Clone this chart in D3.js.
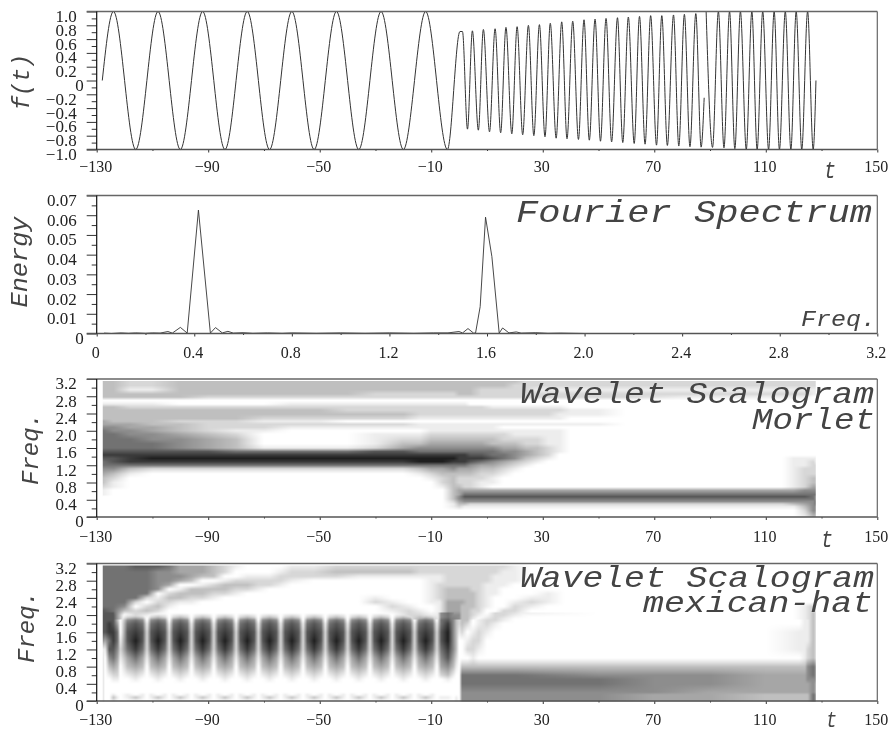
<!DOCTYPE html>
<html lang="en">

<head>
    <meta charset="UTF-8">
    <title>Fourier spectrum and wavelet scalograms</title>
    <style>
        body { margin: 0; background: #fff; }
        svg { display: block; filter: blur(0.45px); }
        .tick-label { font-family: "Liberation Serif", serif; fill: #222; }
        .big-label { font-family: "Liberation Mono", monospace; font-style: italic; fill: #444; }
    </style>
</head>

<body>
    <svg id="chart" width="889" height="733"></svg>

    <script src="https://d3js.org/d3.v7.min.js"></script>
    <script>

        // tick values
        var timeTicks = [-130, -90, -50, -10, 30, 70, 110, 150]
        var timeMinor = [-110, -70, -30, 10, 50, 90, 130]
        var signalTicks = [-1, -0.8, -0.6, -0.4, -0.2, 0, 0.2, 0.4, 0.6, 0.8, 1]
        var signalMinor = [-0.9, -0.7, -0.5, -0.3, -0.1, 0.1, 0.3, 0.5, 0.7, 0.9]
        var energyTicks = [0, 0.01, 0.02, 0.03, 0.04, 0.05, 0.06, 0.07]
        var energyMinor = [0.005, 0.015, 0.025, 0.035, 0.045, 0.055, 0.065]
        var freqTicks = [0, 0.4, 0.8, 1.2, 1.6, 2.0, 2.4, 2.8, 3.2]
        var freqMinor = [0.2, 0.6, 1.0, 1.4, 1.8, 2.2, 2.6, 3.0]

        var signalT = [-128, -124, -116, -108, -100, -92, -84, -76, -68, -60, -52, -44, -36, -28, -20, -12, -4.2,
            0.3, 1.2, 3, 4.76, 6.9, 8.7, 10.9, 12.9, 14.9, 16.8, 18.9, 20.8, 22.8, 24.85, 26.8, 28.8, 30.8, 32.7, 34.8,
            36.8, 38.7, 40.75, 42.8, 44.8, 46.7, 48.76, 50.7, 52.7, 54.7, 56.8, 58.7, 60.7, 62.8, 64.7, 66.7, 68.7, 70.8,
            72.7, 74.7, 76.9, 78.8, 80.8, 82.8, 84.9, 86.8, 87.9, null, 88.6, 90.9, 93, 95, 97, 98.9, 100.9, 103, 105,
            106.9, 108.9, 111, 113, 114.9, 117, 119, 120.9, 122.9, 125, 127, 128]
        var signalF = [0, 1, -1, 1, -1, 1, -1, 1, -1, 1, -1, 1, -1, 1, -1, 1, -1,
            0.71, 0.71, -0.705, 0.72, -0.72, 0.74, -0.744, 0.75, -0.758, 0.77, -0.773, 0.78, -0.787, 0.8, -0.8, 0.81, -0.816, 0.83, -0.836,
            0.85, -0.845, 0.86, -0.855, 0.88, -0.865, 0.89, -0.88, 0.9, -0.89, 0.91, -0.9, 0.92, -0.913, 0.93, -0.923, 0.94, -0.937,
            0.94, -0.942, 0.95, -0.95, 0.96, -0.96, 0.97, -0.966, -0.25, null, 1, -0.97, 1, -0.976, 1, -0.99, 1, -1, 1,
            -1, 1, -1, 1, -1, 1, -1, 1, -1, 1, -1, 0]

        // Fourier spectrum
        var spectrumF = [0.03, 0.06, 0.1, 0.13, 0.16, 0.2, 0.23, 0.26, 0.292, 0.31, 0.343, 0.371, 0.417, 0.466, 0.487, 0.515, 0.538, 0.56,
            0.6, 0.64, 0.7, 0.76, 0.8, 0.9, 1, 1.1, 1.2, 1.3, 1.38, 1.44, 1.485, 1.5, 1.522, 1.545, 1.553, 1.572, 1.594, 1.62, 1.65,
            1.664, 1.69, 1.72, 1.74, 1.8, 1.85, 1.9, 2, 2.4, 2.8, 3.14]
        var spectrumE = [0.0002, 0, 0.0003, 0.0001, 0.0003, 0.0001, 0.0003, 0.0002, 0.001, 0.0002, 0.0031, 0.0002, 0.0626, 0.0002, 0.003, 0.0003, 0.0011, 0.0002,
            0.0004, 0.0001, 0.0003, 0.0001, 0.0003, 0.0001, 0.0003, 0.0001, 0.0003, 0.0001, 0.0003, 0.0003, 0.001, 0.0003, 0.0025, 0.0002, 0.0002, 0.0136, 0.059, 0.039, 0.0002,
            0.0028, 0.0003, 0.0008, 0.0002, 0.0004, 0.0001, 0.0002, 0, 0, 0, 0]

        // Morlet scalogram, grey level 0-9, one string per frequency (top row first)
        var morletT = [-128, -124, -118, -110, -100, -90, -80, -70, -60, -50, -40, -30, -20, -14, -10, -6, -2, 0, 2, 4,
            8, 12, 16, 20, 24, 28, 32, 36, 40, 50, 60, 80, 100, 112, 116, 120, 124, 127, 128]
        var morletF = [3.15, 3.05, 2.95, 2.85, 2.78, 2.7, 2.62, 2.55, 2.48, 2.38, 2.28, 2.22, 2.15, 2.08, 2, 1.92, 1.8, 1.7, 1.6,
            1.52, 1.44, 1.36, 1.28, 1.2, 1.12, 1, 0.9, 0.8, 0.7, 0.62, 0.52, 0.47, 0.42, 0.36, 0.3, 0.24, 0.15, 0]
        var morletRows = [
            "3322 333333333 3333 333 333322222 2222 222222",
            "3322 333333333 3333 333 333222222 2222 222222",
            "3311 333333333 3333 333 222221111 1111 111111",
            "3333 333333322 2222 333 222222222 2222 222211",
            "3333 322222222 2222 222 222222222 2211 111100",
            "0000 000000000 0000 000 000000000 0000 000000",
            "1111 000011111 1111 110 000000000 0000 000000",
            "3322 222222222 2222 222 211111110 0000 000000",
            "3333 333333222 2222 222 222222221 1000 000000",
            "3333 333333333 2222 222 222222211 1000 000000",
            "3333 333222222 1111 111 111111110 0000 000000",
            "4333 222111000 0000 000 000000000 0000 000000",
            "4443 322222222 1111 111 111111111 1000 000000",
            "5544 322211111 1111 111 110000000 0000 000000",
            "6554 321100000 0111 111 111111110 0000 000000",
            "6655 432000011 1222 222 222111110 0000 000000",
            "6665 543000012 2333 333 332222110 0000 000000",
            "6666 543000013 3444 444 433322110 0000 000000",
            "6666 543111124 5555 555 554433210 0000 000000",
            "7777 776666677 6666 666 665543210 0000 000000",
            "8888 888888888 8888 887 766543200 0000 000000",
            "7789 999999999 9999 888 876532100 0000 001111",
            "6788 888888888 9998 887 654321000 0000 001121",
            "6666 666666666 6666 665 443210000 0000 001122",
            "5532 222222222 3445 444 332100000 0000 001222",
            "4310 000000000 1233 333 221000000 0000 001222",
            "3200 000000000 0123 222 210000000 0000 001233",
            "3100 000000000 0023 222 110000000 0000 001233",
            "2100 000000000 0013 322 100000000 0000 001244",
            "1000 000000000 0003 444 444444444 4444 444555",
            "1000 000000000 0003 466 666666666 6666 666666",
            "0000 000000000 0003 577 777777777 7777 777765",
            "0000 000000000 0003 566 666666666 6666 666665",
            "0000 000000000 0002 455 555555555 5555 555556",
            "0000 000000000 0001 332 222222222 2222 223456",
            "0000 000000000 0001 211 111111111 1111 111355",
            "0000 000000000 0000 000 000000000 0000 000255",
            "0000 000000000 0000 000 000000000 0000 000133"
        ]

        // mexican-hat scalogram, lower part (bars and block), one string per time, lowest frequency first
        var hatLowF = [0, 0.08, 0.15, 0.2, 0.4, 0.5, 0.6, 0.8, 1, 1.2, 1.4, 1.6, 1.8, 1.88, 1.95, 2.05]
        var hatBar = "0300012468987630"
        var hatEdge = "0110001346776520"
        var hatGap = "0000000012221000"
        var hatLowT = [-128, -127, -125.5, -124, -122.5, -121.5, -119, -116, -113.5, -112, -110.5, -108, -105.5, -104, -102.5, -100, -97.5, -96,
            -94.5, -92, -89.5, -88, -86.5, -84, -81.5, -80, -78.5, -76, -73.5, -72, -70.5, -68, -65.5, -64, -62.5, -60, -57.5, -56, -54.5, -52,
            -49.5, -48, -46.5, -44, -41.5, -40, -38.5, -36, -33.5, -32, -30.5, -28, -25.5, -24, -22.5, -20, -17.5, -16, -14.5, -12, -9.5, -8,
            -6.5, -4, -2, -1, 0, 1, 3, 5, 7, 10, 13, 16, 20, 50, 70, 90, 110, 122, 124, 125, 127, 128]
        var hatLowCols = [
            "2222222221577776", "0000000001477777", "0000001357688777", "1310012467887777", "0100012345664333", "0000000012100000",
            hatEdge, hatBar, hatEdge, hatGap, hatEdge, hatBar, hatEdge, hatGap, hatEdge, hatBar, hatEdge, hatGap,
            hatEdge, hatBar, hatEdge, hatGap, hatEdge, hatBar, hatEdge, hatGap, hatEdge, hatBar, hatEdge, hatGap,
            hatEdge, hatBar, hatEdge, hatGap, hatEdge, hatBar, hatEdge, hatGap, hatEdge, hatBar, hatEdge, hatGap,
            hatEdge, hatBar, hatEdge, hatGap, hatEdge, hatBar, hatEdge, hatGap, hatEdge, hatBar, hatEdge, hatGap,
            hatEdge, hatBar, hatEdge, hatGap, hatEdge, hatBar, hatEdge, hatGap,
            "0100002456776655", "0100013578998766", "0000001345555555", "1100000123333333", "0000000000012222",
            "5555666300023333", "5555666302102333", "5555666312210012", "5555666301221101", "5555666300012210",
            "5555666300001222", "5555666300000112", "5555666300000001", "5555665300000000", "4445555300000000",
            "4444555300000000", "3334444300000000", "3334444301110000", "3334444311111111", "3334455522111111",
            "6665556633333333", "5554455522222222"
        ]

        // mexican-hat scalogram, upper part (arcs above the bars), one string per time, lowest frequency first
        var hatHighF = [1.9, 2, 2.1, 2.2, 2.3, 2.4, 2.5, 2.6, 2.7, 2.8, 2.9, 3, 3.15]
        var hatHighT = [-128, -124, -120, -116, -112, -108, -104, -100, -96, -92, -88, -84, -80, -76, -72, -68, -64, -60, -52, -44, -36, -30,
            -24, -18, -14, -10, -7, -4, 0, 1, 3, 5, 7, 10, 13, 16, 20, 26, 32, 38, 120, 124, 126, 128]
        var hatHighCols = [
            "7776666666666", "7766666666666", "0035666666666", "0220266666667", "0132026666667", "0023210555557",
            "0001232045556", "0000133104544", "0000123303444", "0000023310344", "0000012320333", "0000002331022",
            "0000001232001", "0000000232100", "0000000122100", "0000000022100", "0000000012210", "0000000001221",
            "0000000000221", "0000000000232", "0000000000132", "0000210000132", "0012100000132", "1221000000132",
            "4210000000122", "3100111111122", "1111122221122", "6544433322222", "5544433322222", "3333433322222",
            "3333333322222", "1223333222222", "0122222222222", "1001111112222", "2200001111122", "1220000011112",
            "0122100001111", "0001210000000", "0000111000000", "0000000000000", "0000000000000", "1111000000000",
            "2222000000000", "2222000000000"
        ]

        // panels, every one has the same horizontal extent
        var xLeft = 96.7
        var xRight = 877.3
        var panelTop = [11.5, 195.5, 379, 563.5]
        var panelBottom = [149.5, 333.5, 517, 701]

        var svg = d3.select("#chart")

        var timeScale = d3.scaleLinear().domain([-130, 150]).range([xLeft, xRight])
        var spectrumScale = d3.scaleLinear().domain([0, 3.2]).range([xLeft, xRight])
        var signalScale = d3.scaleLinear().domain([-1, 1]).range([panelBottom[0], panelTop[0]])
        var energyScale = d3.scaleLinear().domain([0, 0.07]).range([panelBottom[1], panelTop[1]])
        var morletScale = d3.scaleLinear().domain([0, 3.2]).range([panelBottom[2], panelTop[2]])
        var hatScale = d3.scaleLinear().domain([0, 3.2]).range([panelBottom[3], panelTop[3]])

        var greyScale = d3.scalePow().exponent(1.15).domain([0, 9]).range([255, 30])

        function digits(s) {
            return Array.from(s.replace(/ /g, ""), Number)
        }

        // bilinear look-up in a grid on uneven time and frequency stops
        function lookup(layer, t, f) {
            var ts = layer.t, fs = layer.f
            if (t < ts[0] || t > ts[ts.length - 1] || f < fs[0] || f > fs[fs.length - 1]) return 0
            var i = Math.min(d3.bisectRight(ts, t), ts.length - 1)
            var j = Math.min(d3.bisectRight(fs, f), fs.length - 1)
            var a = (t - ts[i - 1]) / (ts[i] - ts[i - 1])
            var b = (f - fs[j - 1]) / (fs[j] - fs[j - 1])
            var low = layer.cols[i - 1][j - 1] * (1 - a) + layer.cols[i][j - 1] * a
            var high = layer.cols[i - 1][j] * (1 - a) + layer.cols[i][j] * a
            return low * (1 - b) + high * b
        }

        // paint a scalogram to a canvas, one pixel at a time through the scales, and hand it to the svg
        function drawScalogram(layers, yScale) {
            var y0 = yScale.range()[1]
            var w = Math.round(xRight - xLeft)
            var h = Math.round(yScale.range()[0] - y0)
            var canvas = document.createElement("canvas")
            canvas.width = w
            canvas.height = h
            var ctx = canvas.getContext("2d")
            var img = ctx.createImageData(w, h)
            for (var py = 0; py < h; py++) {
                for (var px = 0; px < w; px++) {
                    var t = timeScale.invert(xLeft + px + 0.5)
                    var f = yScale.invert(y0 + py + 0.5)
                    var v = d3.max(layers, function (l) { return lookup(l, t, f) })
                    var k = (py * w + px) * 4
                    img.data[k] = img.data[k + 1] = img.data[k + 2] = greyScale(v)
                    img.data[k + 3] = 255
                }
            }
            ctx.putImageData(img, 0, 0)
            svg.append("image")
                .attr("x", xLeft)
                .attr("y", y0)
                .attr("width", w)
                .attr("height", h)
                .attr("href", canvas.toDataURL())
        }

        // frame, major and minor ticks, tick labels
        function drawAxes(xScale, xTicks, xMinor, xFormat, yScale, yTicks, yMinor, yFormat, labelY) {
            var top = yScale.range()[1]
            var bottom = yScale.range()[0]

            var gx = svg.append("g")
                .attr("transform", "translate(0," + bottom + ")")
                .call(d3.axisBottom(xScale).tickValues(xTicks).tickSize(3).tickFormat(xFormat))
            gx.selectAll("text")
                .attr("class", "tick-label")
                .attr("y", labelY)
                .attr("dy", 0)
                .attr("dx", -1.5)
                .style("font-size", "16px")
            var gxm = svg.append("g")
                .attr("transform", "translate(0," + bottom + ")")
                .call(d3.axisBottom(xScale).tickValues(xMinor).tickSize(1.5).tickFormat(""))

            var gy = svg.append("g")
                .attr("transform", "translate(" + xLeft + ",0)")
                .call(d3.axisLeft(yScale).tickValues(yTicks).tickSize(10).tickPadding(10).tickFormat(yFormat))
            gy.selectAll("text")
                .attr("class", "tick-label")
                .attr("y", 4.5)
                .attr("dx", function (d) { return d === 0 ? 7 : 0 })
                .style("font-size", "17px")
            var gym = svg.append("g")
                .attr("transform", "translate(" + xLeft + ",0)")
                .call(d3.axisLeft(yScale).tickValues(yMinor).tickSize(5).tickFormat(""))

            ;[gx, gxm, gy, gym].forEach(function (g) {
                g.attr("font-family", null).attr("font-size", null)
                g.select(".domain").remove()
                g.selectAll("line").attr("stroke", "#333").attr("stroke-width", 1)
            })

            // top and bottom rules run out to the long ticks, right side is a thin grey line
            svg.append("line").attr("x1", xLeft - 10).attr("x2", xRight).attr("y1", top).attr("y2", top)
                .attr("stroke", "#666").attr("stroke-width", 1.4)
            svg.append("line").attr("x1", xLeft - 10).attr("x2", xRight).attr("y1", bottom).attr("y2", bottom)
                .attr("stroke", "#555").attr("stroke-width", 1.4)
            svg.append("line").attr("x1", xRight).attr("x2", xRight).attr("y1", top).attr("y2", bottom)
                .attr("stroke", "#666").attr("stroke-width", 1.2)
            svg.append("line").attr("x1", xLeft).attr("x2", xLeft).attr("y1", top).attr("y2", bottom)
                .attr("stroke", "#111").attr("stroke-width", 1.2)
        }

        // big italic texts, stretched to the width they have in the picture
        function bigText(s, x, y, size, length) {
            svg.append("text")
                .attr("class", "big-label")
                .attr("x", x)
                .attr("y", y)
                .attr("font-size", size)
                .attr("textLength", length)
                .attr("lengthAdjust", "spacingAndGlyphs")
                .text(s)
        }

        function sideText(s, x, yMid, size, length) {
            svg.append("text")
                .attr("class", "big-label")
                .attr("transform", "translate(" + x + "," + yMid + ") rotate(-90)")
                .attr("text-anchor", "middle")
                .attr("font-size", size)
                .attr("textLength", length)
                .attr("lengthAdjust", "spacingAndGlyphs")
                .text(s)
        }

        var minusFormat = function (d) { return d3.format(".0f")(d).replace("-", "\u2212") }
        var oneDecimal = function (d) { return d === 0 ? "0" : d3.format(".1f")(d).replace("-", "\u2212") }
        var twoDecimals = function (d) { return d === 0 ? "0" : d3.format(".2f")(d) }

        // panel 1: the signal
        var signalLine = d3.line()
            .defined(function (d) { return d.t !== null })
            .x(function (d) { return timeScale(d.t) })
            .y(function (d) { return signalScale(d.f) })
            .curve(d3.curveMonotoneX)

        svg.append("path")
            .datum(signalT.map(function (t, i) { return { t: t, f: signalF[i] } }))
            .attr("d", signalLine)
            .attr("fill", "none")
            .attr("stroke", "#333")
            .attr("stroke-width", 1)

        drawAxes(timeScale, timeTicks, timeMinor, minusFormat, signalScale, signalTicks, signalMinor, oneDecimal, 22.5)
        sideText("f(t)", 29, 82, 24, 56)
        bigText("t", 824, 178, 24, 12)

        // panel 2: the spectrum
        var spectrumLine = d3.line()
            .x(function (d, i) { return spectrumScale(d) })
            .y(function (d, i) { return energyScale(spectrumE[i]) })

        svg.append("path")
            .datum(spectrumF)
            .attr("d", spectrumLine)
            .attr("fill", "none")
            .attr("stroke", "#333")
            .attr("stroke-width", 0.9)

        drawAxes(spectrumScale, freqTicks, freqMinor, oneDecimal, energyScale, energyTicks, energyMinor, twoDecimals, 24.5)
        sideText("Energy", 27, 262, 23, 91)
        bigText("Fourier Spectrum", 516, 222, 32, 356)
        bigText("Freq.", 801, 326, 22, 75)

        // panel 3: Morlet
        var morletCols = morletT.map(function (t, i) {
            return morletRows.map(function (r) { return digits(r)[i] }).reverse()
        })
        drawScalogram([{ t: morletT, f: morletF.slice().reverse(), cols: morletCols }], morletScale)
        drawAxes(timeScale, timeTicks, timeMinor, minusFormat, morletScale, freqTicks, freqMinor, oneDecimal, 25)
        sideText("Freq.", 38, 449, 24, 72)
        bigText("Wavelet Scalogram", 520, 403, 29, 354)
        bigText("Morlet", 752, 429, 29, 123)
        bigText("t", 821, 547, 24, 12)

        // panel 4: mexican-hat
        drawScalogram([
            { t: hatLowT, f: hatLowF, cols: hatLowCols.map(digits) },
            { t: hatHighT, f: hatHighF, cols: hatHighCols.map(digits) }
        ], hatScale)
        drawAxes(timeScale, timeTicks, timeMinor, minusFormat, hatScale, freqTicks, freqMinor, oneDecimal, 24)
        sideText("Freq.", 34, 627, 24, 72)
        bigText("Wavelet Scalogram", 520, 587, 29, 354)
        bigText("mexican-hat", 643, 612, 29, 230)
        bigText("t", 826, 727, 22, 11)
    </script>

</body>

</html>
